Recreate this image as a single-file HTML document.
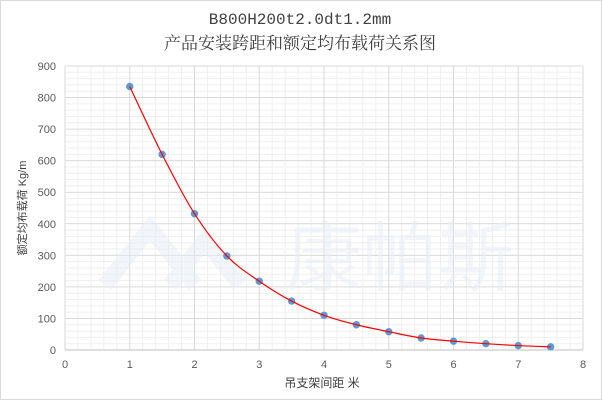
<!DOCTYPE html>
<html><head><meta charset="utf-8"><style>
html,body{margin:0;padding:0;background:#fff}
svg{display:block}
</style></head><body>
<svg id="s" width="602" height="400" xmlns="http://www.w3.org/2000/svg">
<rect x="0.5" y="0.5" width="601" height="399" fill="#fff" stroke="#d9d9d9"/>
<text x="300" y="24" text-anchor="middle" font-family="'Liberation Mono','Noto Serif CJK SC',monospace" font-size="16" fill="#404040">B800H200t2.0dt1.2mm</text>
<text x="300" y="49" text-anchor="middle" font-family="'Liberation Serif','Noto Serif CJK SC',serif" font-size="17" fill="#404040">产品安装跨距和额定均布载荷关系图</text>
<g id="grid"></g>
<g opacity="0.5">
<path d="M105,285 L150,228 L195,285" fill="none" stroke="#e6eef6" stroke-width="16"/>
<path d="M170,285 L205,240 L240,285" fill="none" stroke="#e6eef6" stroke-width="16"/>
<text x="400" y="285" text-anchor="middle" font-family="'Noto Sans CJK SC',sans-serif" font-size="76" fill="#e6eef6">康帕斯</text>
</g>
<g id="data"></g>
<text x="322" y="387" text-anchor="middle" font-family="'Liberation Sans','Noto Sans CJK SC',sans-serif" font-size="12" fill="#404040">吊支架间距 米</text>
<text transform="translate(26,208) rotate(-90)" text-anchor="middle" font-family="'Liberation Sans','Noto Sans CJK SC',sans-serif" font-size="11" fill="#404040">额定均布载荷 Kg/m</text>
</svg>
<script>
var L=65,R=583,T=66,B=350;
function X(v){return L+(R-L)*v/8}
function Y(v){return B-(B-T)*v/900}
var g='';
for(var i=0;i<=40;i++){var x=X(i*0.2);if(i%5)g+='<line x1="'+x+'" y1="'+T+'" x2="'+x+'" y2="'+B+'" stroke="#efefef"/>';}
for(var i=0;i<=45;i++){var y=Y(i*20);if(i%5)g+='<line x1="'+L+'" y1="'+y+'" x2="'+R+'" y2="'+y+'" stroke="#efefef"/>';}
for(var i=0;i<=8;i++){var x=X(i);g+='<line x1="'+x+'" y1="'+T+'" x2="'+x+'" y2="'+B+'" stroke="#d9d9d9"/>';
g+='<text x="'+x+'" y="'+(B+18)+'" text-anchor="middle" font-family="Liberation Sans,sans-serif" font-size="11" fill="#595959">'+i+'</text>';}
for(var i=0;i<=9;i++){var y=Y(i*100);g+='<line x1="'+L+'" y1="'+y+'" x2="'+R+'" y2="'+y+'" stroke="#d9d9d9"/>';
g+='<text x="'+(L-9)+'" y="'+(y+4)+'" text-anchor="end" font-family="Liberation Sans,sans-serif" font-size="11" fill="#595959">'+(i*100)+'</text>';}
g+='<line x1="'+L+'" y1="'+B+'" x2="'+R+'" y2="'+B+'" stroke="#bfbfbf"/>';
document.getElementById('grid').innerHTML=g;
var d=[[1,835],[1.5,620],[2,432],[2.5,298],[3,218],[3.5,155],[4,110],[4.5,80],[5,58],[5.5,38],[6,28],[6.5,20],[7,14],[7.5,10]];
var p=d.map(function(a){return [X(a[0]),Y(a[1])]});
var s='M'+p[0][0]+','+p[0][1];
for(var i=0;i<p.length-1;i++){var p0=p[i-1]||p[i],p1=p[i],p2=p[i+1],p3=p[i+2]||p2;
s+=' C'+(p1[0]+(p2[0]-p0[0])/6)+','+(p1[1]+(p2[1]-p0[1])/6)+' '+(p2[0]-(p3[0]-p1[0])/6)+','+(p2[1]-(p3[1]-p1[1])/6)+' '+p2[0]+','+p2[1];}
var h='';
p.forEach(function(q){h+='<circle cx="'+q[0]+'" cy="'+q[1]+'" r="3.7" fill="#5b9bd5"/>';});
h+='<path d="'+s+'" fill="none" stroke="#ff0000" stroke-width="1.2"/>';
document.getElementById('data').innerHTML=h;
</script>
</body></html>
